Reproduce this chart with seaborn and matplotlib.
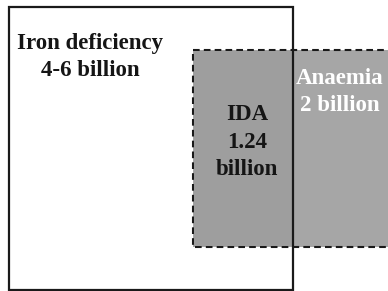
import matplotlib
matplotlib.use("Agg")
import matplotlib.pyplot as plt
import seaborn as sns
from matplotlib.patches import Rectangle

# Labels and counts
groups = ["Iron deficiency", "IDA", "Anaemia"]
counts = ["4-6 billion", "1.24\nbillion", "2 billion"]

sns.set_style("white")
plt.rcParams['font.family'] = ['Liberation Serif', 'DejaVu Serif']

fig = plt.figure(figsize=(3.88, 2.91), dpi=100)
ax = fig.add_axes([0, 0, 1, 1])
ax.set_xlim(0, 388)
ax.set_ylim(291, 0)
ax.axis("off")

# anaemia box (grey, dashed), drawn first
ax.add_patch(Rectangle((193, 50), 220, 197, facecolor="#a6a6a6",
                       edgecolor="#1a1a1a", lw=1.5, ls=(0, (3.2, 2)), zorder=1))
# slightly darker overlap
ax.add_patch(Rectangle((194, 51), 99, 195, facecolor="#9e9e9e",
                       edgecolor="none", zorder=1.5))
# iron deficiency box (solid)
ax.add_patch(Rectangle((9, 7), 284, 283, facecolor="none",
                       edgecolor="#1a1a1a", lw=1.6, zorder=2))

font = dict(fontsize=16.5, fontweight="bold", ha="center", va="center",
            linespacing=1.38)
ax.text(90, 57, groups[0] + "\n" + counts[0], color="#151515", **font)
ax.text(247, 142, groups[1] + "\n" + counts[1], color="#151515", **font)
ax.text(340, 92, groups[2] + "\n" + counts[2], color="white", **font)

fig.savefig("out.png", dpi=100)
